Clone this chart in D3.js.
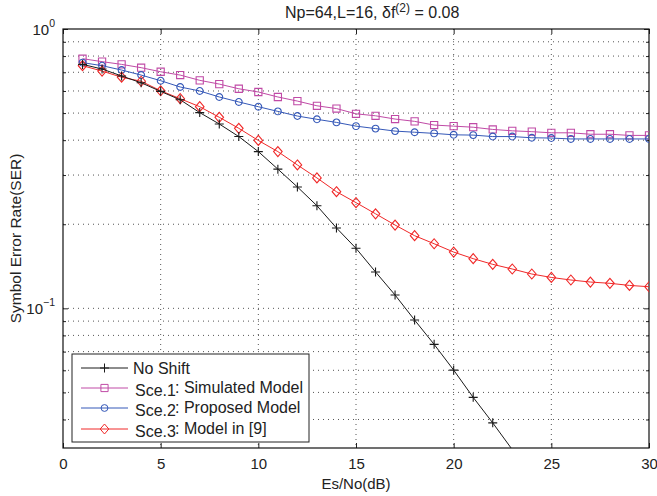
<!DOCTYPE html>
<html>
<head>
<script src="https://d3js.org/d3.v7.min.js"></script>
<style>
  body { margin: 0; background: #fff; }
  svg text { font-family: "Liberation Sans", Arial, sans-serif; fill: #222; }
  .grid line { stroke: #555; stroke-width: 1; stroke-dasharray: 1,4; }
  .frame { fill: none; stroke: #111; stroke-width: 1.2; }
</style>
</head>
<body>
<div id="chart"></div>
<script>

// ---- data ----
var snr = [1,2,3,4,5,6,7,8,9,10,11,12,13,14,15,16,17,18,19,20,21,22,23,24,25,26,27,28,29,30];

var noShift = [0.747,0.719,0.679,0.642,0.598,0.558,0.502,0.457,0.412,0.364,
               0.315,0.272,0.233,0.194,0.164,0.135,0.1116,0.0908,0.0743,0.0601,
               0.048,0.0389,0.0312];

var sce1 = [0.783,0.764,0.747,0.727,0.703,0.684,0.655,0.635,0.611,0.595,
            0.571,0.552,0.531,0.519,0.497,0.489,0.476,0.467,0.453,0.449,
            0.445,0.437,0.432,0.429,0.425,0.425,0.420,0.420,0.416,0.416];

var sce2 = [0.758,0.739,0.713,0.684,0.653,0.620,0.600,0.571,0.548,0.527,
            0.507,0.488,0.475,0.463,0.449,0.440,0.431,0.427,0.423,0.418,
            0.417,0.412,0.412,0.408,0.407,0.404,0.404,0.404,0.404,0.404];

var sce3 = [0.739,0.707,0.672,0.650,0.601,0.563,0.527,0.483,0.441,0.399,
            0.364,0.326,0.293,0.2615,0.239,0.218,0.1987,0.182,0.1703,0.159,
            0.1506,0.1437,0.1383,0.1327,0.129,0.1263,0.1242,0.1229,0.1208,0.1195];

var xTicks = [0,5,10,15,20,25,30];
var yMajor = [1, 0.1];
var yMinor = [0.04,0.05,0.06,0.07,0.08,0.09,0.2,0.3,0.4,0.5,0.6,0.7,0.8,0.9];

var seriesNames = ["No Shift", "Sce.1", "Sce.2", "Sce.3"];
var seriesNotes = ["", ": Simulated Model", ": Proposed Model", ": Model in [9]"];
var seriesColors = ["#1a1a1a", "#c04aa6", "#3558b8", "#f02828"];
var seriesMarkers = ["plus", "square", "circle", "diamond"];
var seriesValues = [noShift, sce1, sce2, sce3];

// ---- layout ----
var width = 657, height = 496;
var margin = {top: 29, right: 8, bottom: 48, left: 63};
var plotW = width - margin.left - margin.right;
var plotH = height - margin.top - margin.bottom;

var x = d3.scaleLinear().domain([0, 30]).range([0, plotW]);
var y = d3.scaleLog().domain([Math.pow(10, -1.5), 1]).range([plotH, 0]);

var svg = d3.select("#chart").append("svg")
    .attr("width", width)
    .attr("height", height);

svg.append("defs").append("clipPath").attr("id", "clip")
    .append("rect").attr("width", plotW).attr("height", plotH);

var g = svg.append("g").attr("transform", "translate(" + margin.left + "," + margin.top + ")");

g.append("rect").attr("width", plotW).attr("height", plotH).attr("fill", "#fff");

// grid
var grid = g.append("g").attr("class", "grid");
grid.selectAll(".vg").data(xTicks.slice(1, -1)).enter().append("line")
    .attr("x1", function(d) { return x(d); })
    .attr("x2", function(d) { return x(d); })
    .attr("y1", 0).attr("y2", plotH);
grid.selectAll(".hg").data(yMinor.concat([0.1])).enter().append("line")
    .attr("x1", 0).attr("x2", plotW)
    .attr("y1", function(d) { return y(d); })
    .attr("y2", function(d) { return y(d); });

// axes: ticks inside, on all four sides
var xb = g.append("g").attr("transform", "translate(0," + plotH + ")")
    .call(d3.axisBottom(x).tickValues(xTicks).tickSizeInner(-5).tickSizeOuter(0).tickPadding(10));
var xt = g.append("g")
    .call(d3.axisTop(x).tickValues(xTicks).tickSizeInner(-5).tickSizeOuter(0).tickFormat(""));
var yl = g.append("g")
    .call(d3.axisLeft(y).tickValues(yMinor).tickSizeInner(-3).tickSizeOuter(0).tickFormat(""));
var yl2 = g.append("g")
    .call(d3.axisLeft(y).tickValues(yMajor).tickSizeInner(-5).tickSizeOuter(0).tickFormat(""));
var yr = g.append("g").attr("transform", "translate(" + plotW + ",0)")
    .call(d3.axisRight(y).tickValues(yMinor).tickSizeInner(-3).tickSizeOuter(0).tickFormat(""));
var yr2 = g.append("g").attr("transform", "translate(" + plotW + ",0)")
    .call(d3.axisRight(y).tickValues(yMajor).tickSizeInner(-5).tickSizeOuter(0).tickFormat(""));

[xb, xt, yl, yl2, yr, yr2].forEach(function(a) {
    a.select(".domain").remove();
    a.selectAll(".tick line").attr("stroke", "#222");
});
xb.selectAll(".tick text")
    .style("font-size", "15px")
    .style("font-family", "Liberation Sans, Arial, sans-serif")
    .attr("fill", "#222");

// y tick labels as 10^n
yMajor.forEach(function(v) {
    var t = g.append("text")
        .attr("x", -8)
        .attr("y", y(v) + 6)
        .attr("text-anchor", "end")
        .style("font-size", "15px");
    t.append("tspan").text("10");
    t.append("tspan").attr("dy", -8).style("font-size", "10.5px")
        .text(v === 1 ? "0" : "\u22121");
});

g.append("rect").attr("class", "frame").attr("width", plotW).attr("height", plotH);

// ---- markers ----
function markerPath(type) {
    if (type === "plus") return "M-4.5,0H4.5M0,-4.5V4.5";
    if (type === "square") return "M-3.6,-3.6H3.6V3.6H-3.6Z";
    if (type === "circle") return "M3.4,0A3.4,3.4 0 1,1 -3.4,0A3.4,3.4 0 1,1 3.4,0Z";
    return "M0,-5L4.3,0L0,5L-4.3,0Z";
}

var plotArea = g.append("g").attr("clip-path", "url(#clip)");
var line = d3.line()
    .x(function(d) { return x(d[0]); })
    .y(function(d) { return y(d[1]); });

// draw order: pink, blue, red, black on top
[1, 2, 3, 0].forEach(function(i) {
    var pts = seriesValues[i].map(function(v, k) { return [snr[k], v]; });
    plotArea.append("path")
        .datum(pts)
        .attr("d", line)
        .attr("fill", "none")
        .attr("stroke", seriesColors[i])
        .attr("stroke-width", 1);
    plotArea.selectAll(".m" + i)
        .data(pts.filter(function(p) { return p[1] >= y.domain()[0]; }))
        .enter().append("path")
        .attr("class", "m" + i)
        .attr("transform", function(d) { return "translate(" + x(d[0]) + "," + y(d[1]) + ")"; })
        .attr("d", markerPath(seriesMarkers[i]))
        .attr("fill", "none")
        .attr("stroke", seriesColors[i])
        .attr("stroke-width", 1.1);
});

// ---- legend ----
var legend = svg.append("g").attr("transform", "translate(72,354)");
legend.append("rect")
    .attr("width", 237).attr("height", 88)
    .attr("fill", "#fff").attr("stroke", "#222").attr("stroke-width", 1);

var rowY = [14, 34, 54, 75];
seriesNames.forEach(function(name, i) {
    var ry = rowY[i];
    legend.append("line")
        .attr("x1", 9).attr("x2", 56)
        .attr("y1", ry).attr("y2", ry)
        .attr("stroke", seriesColors[i]).attr("stroke-width", 1);
    legend.append("path")
        .attr("transform", "translate(32.5," + ry + ")")
        .attr("d", markerPath(seriesMarkers[i]))
        .attr("fill", "none")
        .attr("stroke", seriesColors[i]);
    legend.append("text")
        .attr("x", i === 0 ? 61 : 63).attr("y", i === 0 ? ry + 6 : ry + 8)
        .style("font-size", "16px")
        .text(name);
    if (seriesNotes[i]) {
        legend.append("text")
            .attr("x", 103).attr("y", ry + 5)
            .style("font-size", "16px")
            .text(seriesNotes[i]);
    }
});

// ---- titles ----
var title = svg.append("text")
    .attr("x", 285)
    .attr("y", 18)
    .style("font-size", "16px");
title.append("tspan").text("Np=64,L=16, \u03b4f");
title.append("tspan").attr("dy", -6).style("font-size", "12px").text("(2)");
title.append("tspan").attr("dy", 6).text(" = 0.08");

svg.append("text")
    .attr("x", margin.left + plotW / 2)
    .attr("y", 489)
    .attr("text-anchor", "middle")
    .style("font-size", "15px")
    .text("Es/No(dB)");

svg.append("text")
    .attr("transform", "translate(21," + (margin.top + plotH / 2) + ") rotate(-90)")
    .attr("text-anchor", "middle")
    .style("font-size", "15.5px")
    .text("Symbol Error Rate(SER)");

</script>
</body>
</html>
